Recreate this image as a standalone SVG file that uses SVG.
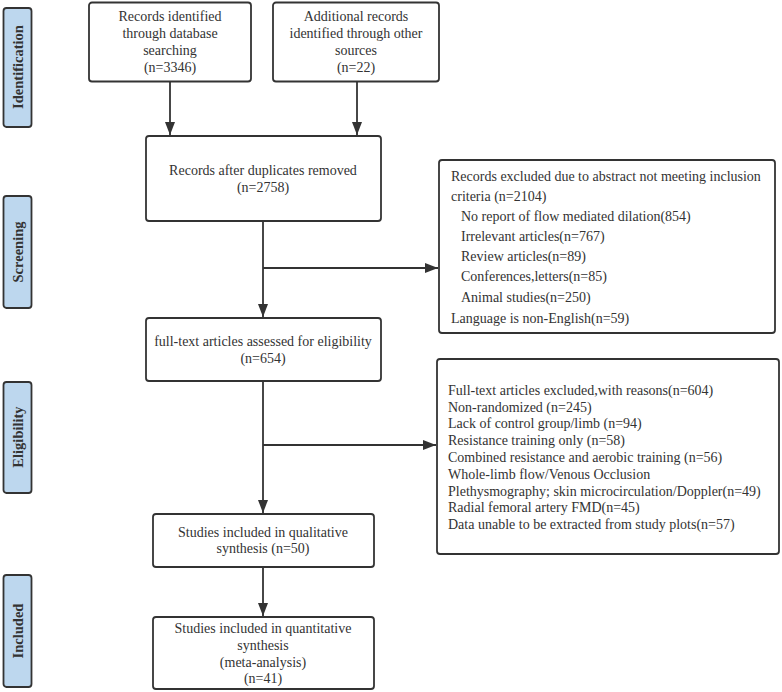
<svg xmlns="http://www.w3.org/2000/svg" width="782" height="692" viewBox="0 0 782 692">
<style>
.box{fill:#fff;stroke:#333;stroke-width:1.8}
.side{fill:#bdd7ee;stroke:#333;stroke-width:1.8}
.t{font-family:"Liberation Serif","Times New Roman",serif;font-size:14px;fill:#333}
.c{text-anchor:middle}
.s{font-family:"Liberation Serif","Times New Roman",serif;font-size:14.5px;font-weight:bold;fill:#333;text-anchor:middle}
.ln{stroke:#333;stroke-width:1.8;fill:none}
</style>
<defs>
<marker id="ah" viewBox="0 0 13 10" refX="13" refY="5" markerWidth="13" markerHeight="10" markerUnits="userSpaceOnUse" orient="auto">
<path d="M0,0 L13,5 L0,10 z" fill="#333"/>
</marker>
</defs>
<rect width="782" height="692" fill="#fff"/>
<g id="side-identification"><rect class="side" x="3.5" y="8" width="28" height="119" rx="3"/><text class="s" transform="translate(22.5,67) rotate(-90)">Identification</text></g>
<g id="side-screening"><rect class="side" x="3.5" y="196" width="28" height="112" rx="3"/><text class="s" transform="translate(22.5,252) rotate(-90)">Screening</text></g>
<g id="side-eligibility"><rect class="side" x="3.5" y="382" width="28" height="111" rx="3"/><text class="s" transform="translate(22.5,437) rotate(-90)">Eligibility</text></g>
<g id="side-included"><rect class="side" x="3.5" y="575" width="28" height="112" rx="3"/><text class="s" transform="translate(22.5,631) rotate(-90)">Included</text></g>

<g id="connectors">
<line class="ln" x1="170" y1="81" x2="170" y2="135" marker-end="url(#ah)"/>
<line class="ln" x1="357" y1="81" x2="357" y2="135" marker-end="url(#ah)"/>
<line class="ln" x1="263" y1="221" x2="263" y2="317" marker-end="url(#ah)"/>
<line class="ln" x1="263" y1="268" x2="438" y2="268" marker-end="url(#ah)"/>
<line class="ln" x1="263" y1="381" x2="263" y2="513" marker-end="url(#ah)"/>
<line class="ln" x1="263" y1="445" x2="436" y2="445" marker-end="url(#ah)"/>
<line class="ln" x1="263" y1="567" x2="263" y2="616" marker-end="url(#ah)"/>
</g>

<g id="records-db"><rect class="box" x="89" y="2.5" width="162" height="79" rx="3"/>
<text class="t c" x="170" y="21">Records identified</text>
<text class="t c" x="170" y="38">through database</text>
<text class="t c" x="170" y="55">searching</text>
<text class="t c" x="170" y="72">(n=3346)</text></g>

<g id="records-other"><rect class="box" x="273" y="2.5" width="166" height="79" rx="3"/>
<text class="t c" x="356" y="21">Additional records</text>
<text class="t c" x="356" y="38">identified through other</text>
<text class="t c" x="356" y="55">sources</text>
<text class="t c" x="356" y="72">(n=22)</text></g>

<g id="after-duplicates"><rect class="box" x="146" y="136" width="235" height="85" rx="3"/>
<text class="t c" x="263" y="175">Records after duplicates removed</text>
<text class="t c" x="263" y="192">(n=2758)</text></g>

<g id="excluded-abstract"><rect class="box" x="439" y="160" width="336" height="173" rx="3"/>
<text class="t" x="451" y="181">Records excluded due to abstract not meeting  inclusion</text>
<text class="t" x="451" y="201">criteria (n=2104)</text>
<text class="t" x="461" y="221">No report of flow mediated dilation(854)</text>
<text class="t" x="461" y="241">Irrelevant articles(n=767)</text>
<text class="t" x="461" y="261">Review articles(n=89)</text>
<text class="t" x="461" y="281">Conferences,letters(n=85)</text>
<text class="t" x="461" y="302">Animal studies(n=250)</text>
<text class="t" x="451" y="323">Language is non-English(n=59)</text></g>

<g id="full-text"><rect class="box" x="146" y="318" width="235" height="63" rx="3"/>
<text class="t c" x="263" y="346">full-text articles assessed for eligibility</text>
<text class="t c" x="263" y="363">(n=654)</text></g>

<g id="excluded-fulltext"><rect class="box" x="437" y="359" width="342" height="195" rx="3"/>
<text class="t" x="448" y="395">Full-text articles excluded,with reasons(n=604)</text>
<text class="t" x="448" y="412">Non-randomized (n=245)</text>
<text class="t" x="448" y="428">Lack of control group/limb  (n=94)</text>
<text class="t" x="448" y="445">Resistance training only (n=58)</text>
<text class="t" x="448" y="462">Combined resistance and aerobic training (n=56)</text>
<text class="t" x="448" y="479">Whole-limb flow/Venous Occlusion</text>
<text class="t" x="448" y="496">Plethysmography; skin microcirculation/Doppler(n=49)</text>
<text class="t" x="448" y="512">Radial femoral artery FMD(n=45)</text>
<text class="t" x="448" y="529">Data unable to be extracted from study plots(n=57)</text></g>

<g id="qualitative"><rect class="box" x="153" y="514" width="221" height="53" rx="3"/>
<text class="t c" x="263" y="537">Studies included in qualitative</text>
<text class="t c" x="263" y="553">synthesis (n=50)</text></g>

<g id="quantitative"><rect class="box" x="153" y="617" width="221" height="72" rx="3"/>
<text class="t c" x="263" y="633">Studies included in quantitative</text>
<text class="t c" x="263" y="650">synthesis</text>
<text class="t c" x="263" y="667">(meta-analysis)</text>
<text class="t c" x="263" y="683">(n=41)</text></g>
</svg>
